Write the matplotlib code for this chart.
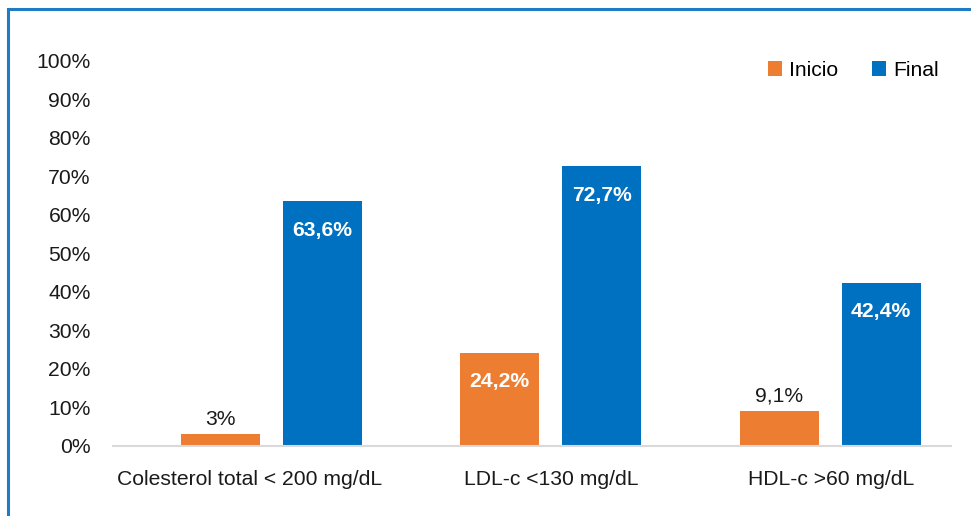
"""
Colesterol: Inicio vs Final, grouped bars.
"""

import matplotlib.pyplot as plt
import matplotlib.patches as mpatches
import numpy as np

plt.rcParams['font.family'] = ['Liberation Sans', 'DejaVu Sans']

categories = ['Colesterol total < 200 mg/dL', 'LDL-c <130 mg/dL', 'HDL-c >60 mg/dL']
inicio = [3.0, 24.2, 9.1]
final = [63.6, 72.7, 42.4]
inicio_labels = ['3%', '24,2%', '9,1%']
final_labels = ['63,6%', '72,7%', '42,4%']
yticks = np.arange(0, 101, 10)

c_orange = '#ED7D31'
c_blue = '#0070C0'
fs = 15.2

fig = plt.figure(figsize=(9.71, 5.16), dpi=100)
ax = fig.add_axes([0.1164, 0.1357, 0.8630, 0.7461])

x = np.arange(len(categories))
w = 0.283
off = 0.1826

b1 = ax.bar(x - off, inicio, w, color=c_orange, label='Inicio', zorder=2)
b2 = ax.bar(x + off, final, w, color=c_blue, label='Final', zorder=2)

# value labels: inside (white bold) for tall bars, above otherwise
for bars, labels in [(b1, inicio_labels), (b2, final_labels)]:
    for bar, lab in zip(bars, labels):
        h = bar.get_height()
        cx = bar.get_x() + bar.get_width() / 2
        if h > 15:
            ax.annotate(lab, (cx, h), xytext=(0, -29), textcoords='offset pixels',
                        ha='center', va='center', color='white',
                        fontsize=fs, fontweight='bold')
        else:
            ax.annotate(lab, (cx, h), xytext=(0, 15), textcoords='offset pixels',
                        ha='center', va='center', color='#1a1a1a', fontsize=fs)

ax.set_xlim(-0.5675, 2.433)
ax.set_ylim(0, 100)
ax.set_yticks(yticks)
ax.set_yticklabels([f'{v}%' for v in yticks], fontsize=fs, color='#1a1a1a')
ax.set_xticks(x + np.array([-0.077, 0.0, 0.005]))
ax.set_xticklabels(categories, fontsize=fs, color='#1a1a1a')
ax.tick_params(axis='both', length=0)
ax.tick_params(axis='x', pad=17)
ax.tick_params(axis='y', pad=16)

for s in ['top', 'right', 'left']:
    ax.spines[s].set_visible(False)
ax.spines['bottom'].set_color('#d9d9d9')
ax.spines['bottom'].set_linewidth(1.5)

ax.legend(loc='upper right', bbox_to_anchor=(0.986, 0.919),
          bbox_transform=fig.transFigure, ncol=2, frameon=False,
          fontsize=fs, handlelength=0.7, handleheight=0.7,
          handletextpad=0.3, columnspacing=1.6)

# blue frame around the figure (right/bottom edges fall outside the picture)
frame = mpatches.Rectangle((7.5 / 971, -0.2), 1.5, 1 - 9 / 516 + 0.2,
                           transform=fig.transFigure, fill=False,
                           edgecolor='#1f7bc4', linewidth=2.2, clip_on=False)
fig.patches.append(frame)

plt.savefig('out.png', dpi=100)
plt.close()
